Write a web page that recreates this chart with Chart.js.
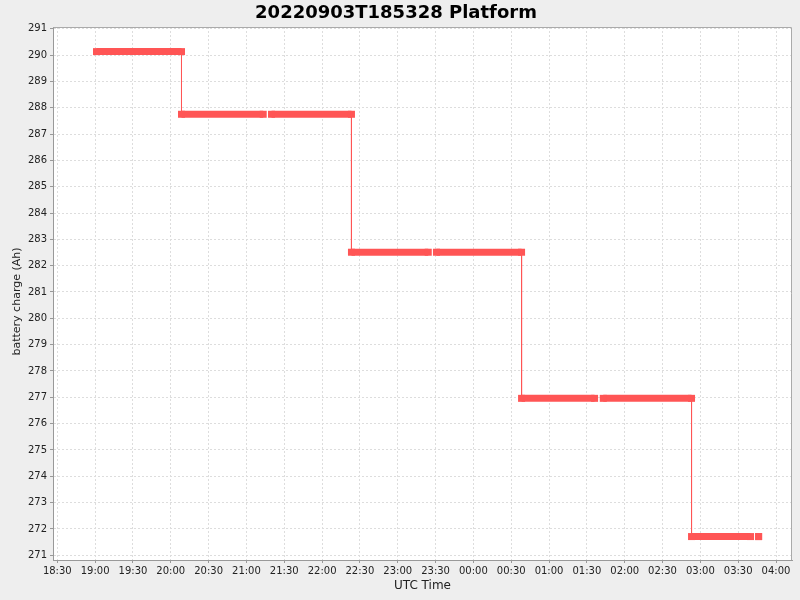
<!DOCTYPE html>
<html>
<head>
<meta charset="utf-8">
<script src="https://cdn.jsdelivr.net/npm/chart.js@4.4.0/dist/chart.umd.min.js"></script>
<style>
html,body{margin:0;padding:0;background:#eeeeee;}
canvas{display:block;}
</style>
</head>
<body>
<canvas id="c" width="800" height="600"></canvas>
<script>
// Battery charge levels (Ah) of each plateau
const levels   = [290.13, 287.75, 282.51, 276.96, 271.71];
// Times in minutes after 2022-09-03 18:00 UTC
const segStart = [61.1, 128.5, 263.3, 398.2, 533.0];
const gapStart = [null, 193.3, 324.2, 456.1, 579.8];
const gapEnd   = [null, 199.9, 330.7, 463.0, 586.2];
const segEnd   = [128.5, 263.3, 398.2, 533.0, 586.2];

const xTickMinutes = [30, 60, 90, 120, 150, 180, 210, 240, 270, 300, 330, 360, 390, 420, 450, 480, 510, 540, 570, 600];
const xTickLabels  = ['18:30','19:00','19:30','20:00','20:30','21:00','21:30','22:00','22:30','23:00','23:30','00:00','00:30','01:00','01:30','02:00','02:30','03:00','03:30','04:00'];
const yTicks = [271, 272, 273, 274, 275, 276, 277, 278, 279, 280, 281, 282, 283, 284, 285, 286, 287, 288, 289, 290, 291];

const RED = '#ff5555';
const TEXT = '#222222';

// thick plateaus (marker strips)
const thick = [];
levels.forEach((v, i) => {
  thick.push({x: segStart[i], y: v});
  if (gapStart[i] !== null) {
    thick.push({x: gapStart[i], y: v});
    thick.push({x: (gapStart[i] + gapEnd[i]) / 2, y: null});
    thick.push({x: gapEnd[i], y: v});
  }
  thick.push({x: segEnd[i], y: v});
  thick.push({x: segEnd[i], y: null});
});

// thin connecting steps
const thin = [];
for (let i = 0; i < levels.length - 1; i++) {
  thin.push({x: segEnd[i], y: levels[i]});
  thin.push({x: segEnd[i], y: levels[i + 1]});
  thin.push({x: segEnd[i], y: null});
}

const FONT = '"DejaVu Sans", "Liberation Sans", sans-serif';

const plotBg = {
  id: 'plotBg',
  beforeDraw(chart) {
    const {ctx, chartArea: a} = chart;
    ctx.save();
    ctx.fillStyle = '#ffffff';
    ctx.fillRect(a.left, a.top, a.right - a.left, a.bottom - a.top);
    ctx.restore();
  },
  afterDraw(chart) {
    const {ctx, chartArea: a} = chart;
    ctx.save();
    ctx.strokeStyle = '#aaaaaa';
    ctx.lineWidth = 1;
    ctx.beginPath();
    ctx.moveTo(Math.round(a.left) + 0.5, Math.round(a.top) + 0.5);
    ctx.lineTo(Math.round(a.right) - 0.5, Math.round(a.top) + 0.5);
    ctx.lineTo(Math.round(a.right) - 0.5, Math.round(a.bottom));
    ctx.stroke();
    // y axis title
    ctx.translate(17, 301.5);
    ctx.rotate(-Math.PI / 2);
    ctx.font = '11px ' + FONT;
    ctx.fillStyle = TEXT;
    ctx.textAlign = 'center';
    ctx.textBaseline = 'middle';
    ctx.fillText('battery charge (Ah)', 0, 0);
    ctx.restore();
  }
};

new Chart(document.getElementById('c'), {
  type: 'line',
  data: {
    datasets: [
      {
        data: thick,
        borderColor: RED,
        backgroundColor: RED,
        borderWidth: 7,
        borderCapStyle: 'butt',
        pointStyle: 'rect',
        pointRadius: 4.95,
        pointBorderWidth: 0,
        pointBackgroundColor: RED,
        spanGaps: false,
        tension: 0,
        fill: false
      },
      {
        data: thin,
        borderColor: RED,
        borderWidth: 1,
        pointRadius: 0,
        spanGaps: false,
        tension: 0,
        fill: false
      }
    ]
  },
  options: {
    responsive: false,
    animation: false,
    events: [],
    layout: {padding: {left: 0, right: 8, top: 0, bottom: 0}},
    plugins: {
      legend: {display: false},
      tooltip: {enabled: false},
      title: {
        display: true,
        text: '20220903T185328 Platform',
        color: '#000000',
        font: {family: FONT, size: 18, weight: 'bold', lineHeight: 1.2},
        padding: {top: 2.5, bottom: 2.9}
      }
    },
    scales: {
      x: {
        type: 'linear',
        min: 26.59,
        max: 612.68,
        afterFit(scale) { scale.height = 40; },
        afterBuildTicks(scale) { scale.ticks = xTickMinutes.map(v => ({value: v})); },
        ticks: {
          autoSkip: false,
          maxRotation: 0,
          padding: 2,
          color: TEXT,
          font: {family: FONT, size: 10},
          callback(value) {
            const i = xTickMinutes.indexOf(value);
            return i >= 0 ? xTickLabels[i] : '';
          }
        },
        grid: {
          color: '#dddddd',
          lineWidth: 1,
          drawTicks: true,
          tickLength: 3,
          tickColor: '#999999'
        },
        border: {display: true, color: '#999999', width: 1, dash: [2, 2]},
        title: {
          display: true,
          text: 'UTC Time',
          color: TEXT,
          font: {family: FONT, size: 12, lineHeight: 1.2},
          padding: {top: 0, bottom: 6.5}
        }
      },
      y: {
        type: 'linear',
        min: 270.82,
        max: 291.065,
        afterFit(scale) { scale.width = 53; },
        afterBuildTicks(scale) { scale.ticks = yTicks.map(v => ({value: v})); },
        ticks: {
          autoSkip: false,
          padding: 3,
          color: TEXT,
          font: {family: FONT, size: 10},
          callback(value) { return String(value); }
        },
        grid: {
          color: '#dddddd',
          lineWidth: 1,
          drawTicks: true,
          tickLength: 3,
          tickColor: '#999999'
        },
        border: {display: true, color: '#999999', width: 1, dash: [2, 2]}
      }
    }
  },
  plugins: [plotBg]
});
</script>
</body>
</html>
